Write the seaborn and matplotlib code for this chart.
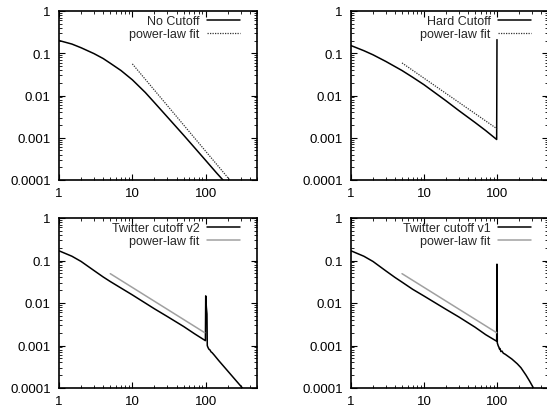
import matplotlib
matplotlib.use("Agg")
import matplotlib.pyplot as plt
import seaborn as sns
from matplotlib.ticker import LogLocator, FixedLocator, FixedFormatter, NullFormatter

# No Cutoff
no_cut_x = [1, 1.5, 2, 3, 4, 5, 7, 10, 15, 20, 30, 50, 70, 100, 140, 175, 185]
no_cut_y = [0.2, 0.165, 0.135, 0.098, 0.075, 0.058, 0.039, 0.0235, 0.0118, 0.0068,
            0.0031, 0.00115, 0.00059, 0.00029, 0.000148, 0.0000965, 0.000087]
no_cut_fit_x = [10, 213]
no_cut_fit_y = [0.056, 0.0001]

# Hard Cutoff
hard_x = [1, 1.5, 2, 3, 5, 7, 10, 20, 30, 50, 70, 99, 100]
hard_y = [0.152, 0.115, 0.092, 0.064, 0.039, 0.027, 0.018, 0.0075, 0.0044,
          0.0023, 0.00148, 0.00091, 0.21]
hard_fit_x = [5, 100]
hard_fit_y = [0.059, 0.00163]

# Twitter cutoff v2
v2_x = [1, 1.5, 2, 3, 4, 5, 7, 10, 20, 30, 50, 70, 99, 100, 102, 104, 105,
        106, 108, 111, 114, 118, 122, 130, 150, 200, 250, 315, 330]
v2_y = [0.169, 0.126, 0.095, 0.058, 0.041, 0.032, 0.0225, 0.0155, 0.0073,
        0.0048, 0.0028, 0.0019, 0.0013, 0.0147, 0.008, 0.0055, 0.001,
        0.00095, 0.00088, 0.00081, 0.00079, 0.00071, 0.00068, 0.0006,
        0.000444, 0.00025, 0.00016, 0.000101, 0.00009]
v2_fit_x = [5, 97]
v2_fit_y = [0.049, 0.002]

# Twitter cutoff v1
v1_x = [1, 1.5, 2, 3, 4, 5, 7, 10, 20, 30, 50, 70, 99, 100, 101, 104, 106,
        108, 110, 113, 117, 122, 130, 160, 190, 213, 250, 280, 316, 330]
v1_y = [0.169, 0.126, 0.095, 0.057, 0.040, 0.031, 0.021, 0.0146, 0.0071,
        0.0047, 0.0027, 0.0018, 0.00126, 0.082, 0.00115, 0.00098, 0.00092,
        0.00083, 0.00085, 0.00072, 0.00074, 0.00066, 0.00062, 0.00048,
        0.00037, 0.0003, 0.0002, 0.000145, 0.0001, 0.00009]
v1_fit_x = [5, 99]
v1_fit_y = [0.049, 0.002]

panels = [
    ("No Cutoff", no_cut_x, no_cut_y, no_cut_fit_x, no_cut_fit_y, "dot"),
    ("Hard Cutoff", hard_x, hard_y, hard_fit_x, hard_fit_y, "dot"),
    ("Twitter cutoff v2", v2_x, v2_y, v2_fit_x, v2_fit_y, "grey"),
    ("Twitter cutoff v1", v1_x, v1_y, v1_fit_x, v1_fit_y, "grey"),
]

sns.set_style("ticks")
plt.rcParams["font.family"] = ["Liberation Sans", "DejaVu Sans"]

W, H = 547, 414
fig = plt.figure(figsize=(W / 100, H / 100), dpi=100)

# pixel boxes: left, right, top, bottom
boxes = [(59, 257, 12, 181), (351, 548, 12, 181),
         (59, 257, 219, 389), (351, 548, 219, 389)]

for (label, x, y, fx, fy, fstyle), (l, r, t, b) in zip(panels, boxes):
    ax = fig.add_axes([l / W, 1 - b / H, (r - l) / W, (b - t) / H])
    sns.lineplot(x=x, y=y, ax=ax, color="black", lw=1.1, sort=False,
                 estimator=None, label=label)
    if fstyle == "dot":
        sns.lineplot(x=fx, y=fy, ax=ax, color="#333333", lw=0.9, sort=False,
                     estimator=None, linestyle=(0, (1, 1)), label="power-law fit")
    else:
        sns.lineplot(x=fx, y=fy, ax=ax, color="#a0a0a0", lw=1.1, sort=False,
                     estimator=None, label="power-law fit")
    ax.set_xscale("log")
    ax.set_yscale("log")
    ax.set_xlim(1, 500)
    ax.set_ylim(0.0001, 1)
    ax.xaxis.set_major_locator(FixedLocator([1, 10, 100]))
    ax.xaxis.set_major_formatter(FixedFormatter(["1", "10", "100"]))
    ax.xaxis.set_minor_locator(LogLocator(base=10, subs=range(2, 10)))
    ax.xaxis.set_minor_formatter(NullFormatter())
    ax.yaxis.set_major_locator(FixedLocator([0.0001, 0.001, 0.01, 0.1, 1]))
    ax.yaxis.set_major_formatter(FixedFormatter(["0.0001", "0.001", "0.01", "0.1", "1"]))
    ax.yaxis.set_minor_locator(LogLocator(base=10, subs=range(2, 10)))
    ax.yaxis.set_minor_formatter(NullFormatter())
    ax.tick_params(which="both", direction="in", top=True, right=True,
                   labelsize=9.5, colors="black")
    ax.tick_params(which="major", length=4, width=0.8)
    ax.tick_params(which="minor", length=2, width=0.6)
    ax.tick_params(axis="x", pad=5)
    ax.tick_params(axis="y", pad=6)
    for s in ax.spines.values():
        s.set_visible(True)
        s.set_linewidth(1.2)
        s.set_color("black")
    ax.set_xlabel("")
    ax.set_ylabel("")
    ax.legend(loc="upper right",
              bbox_to_anchor=((r - 16 - l) / (r - l), 1 - 3 / (b - t)),
              frameon=False, markerfirst=False, fontsize=9, handlelength=2.6,
              handletextpad=0.6, labelspacing=0.05, borderaxespad=0,
              borderpad=0.1)

fig.savefig("out.png", dpi=100)
